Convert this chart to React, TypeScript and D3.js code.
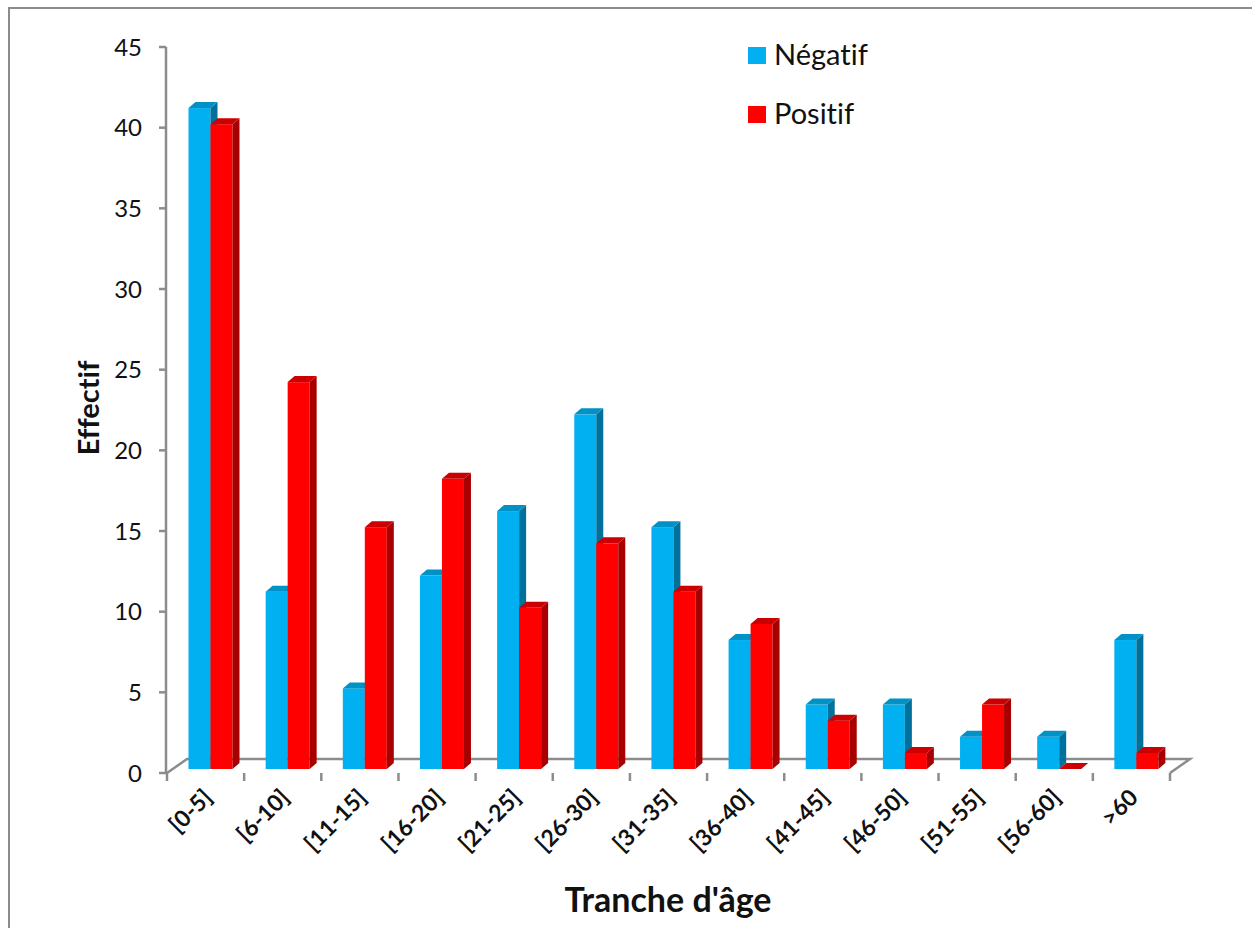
import * as d3 from "d3";
import { useEffect, useRef } from "react";

const categories = ["[0-5]", "[6-10]", "[11-15]", "[16-20]", "[21-25]", "[26-30]", "[31-35]", "[36-40]", "[41-45]", "[46-50]", "[51-55]", "[56-60]", ">60"];
const negatif = [41, 11, 5, 12, 16, 22, 15, 8, 4, 4, 2, 2, 8];
const positif = [40, 24, 15, 18, 10, 14, 11, 9, 3, 1, 4, 0, 1];
const seriesNames = ["Négatif", "Positif"];
const yTicks = [0, 5, 10, 15, 20, 25, 30, 35, 40, 45];

const FONT = "Lato, 'Open Sans', sans-serif";
const W = 1252;
const H = 928;

// front / side / top colours for the pseudo 3D bars
const colors = {
  "Négatif": { front: "#00B0F0", side: "#00719c", top: "#0091c6" },
  "Positif": { front: "#FF0000", side: "#a80000", top: "#cc0000" },
};

const App = () => {
  const svgRef = useRef(null);

  useEffect(() => {
    const svg = d3.select(svgRef.current);
    svg.selectAll("*").remove();

    const x = d3.scaleBand().domain(categories).range([167, 1170]);
    const xs = d3.scaleBand().domain(seriesNames).range([0, 44]);
    // axis scale (wall) and bar scale (front faces sit a bit higher)
    const yAxis = d3.scaleLinear().domain([0, 45]).range([773, 47]);
    const yBar = d3.scaleLinear().domain([0, 45]).range([769, 769 - 45 * 16.12]);
    const depthX = 7;
    const depthY = 6;
    const floorDX = 20;
    const floorDY = 14;

    // outer frame
    svg.append("rect")
      .attr("x", 9).attr("y", 8)
      .attr("width", W + 20).attr("height", H + 20)
      .attr("fill", "white")
      .attr("stroke", "#8c8c8c").attr("stroke-width", 2);

    const axisColor = "#8c8c8c";
    const x0 = x.range()[0];
    const x1 = x.range()[1];
    const y0 = yAxis(0);

    // floor
    svg.append("path")
      .attr("d", `M${x0},${y0} L${x0 + floorDX},${y0 - floorDY} L${x1 + floorDX},${y0 - floorDY} L${x1},${y0}`)
      .attr("fill", "white")
      .attr("stroke", axisColor).attr("stroke-width", 2.5);

    // y axis
    svg.append("line")
      .attr("x1", x0 - 1).attr("x2", x0 - 1)
      .attr("y1", yAxis(45)).attr("y2", y0)
      .attr("stroke", axisColor).attr("stroke-width", 2.5);
    svg.selectAll(".ytick").data(yTicks).enter().append("line")
      .attr("x1", x0 - 8).attr("x2", x0 - 1)
      .attr("y1", d => yAxis(d)).attr("y2", d => yAxis(d))
      .attr("stroke", axisColor).attr("stroke-width", 2.5);
    svg.selectAll(".ylab").data(yTicks).enter().append("text")
      .attr("x", 142).attr("y", d => yAxis(d))
      .attr("dy", "0.36em")
      .attr("text-anchor", "end")
      .attr("font-family", FONT).attr("font-size", 24)
      .attr("fill", "#111")
      .text(d => d);

    // bars
    const data = categories.map((c, i) => ({ c, values: [negatif[i], positif[i]] }));
    data.forEach(d => {
      seriesNames.forEach((s, k) => {
        const v = d.values[k];
        const col = colors[s];
        const bx = x(d.c) + 21.5 + xs(s);
        const bw = xs.bandwidth();
        const top = yBar(v);
        const bot = yBar(0);
        const g = svg.append("g");
        g.append("rect")
          .attr("x", bx).attr("y", top)
          .attr("width", bw).attr("height", bot - top)
          .attr("fill", col.front);
        g.append("path")
          .attr("d", `M${bx + bw},${top} L${bx + bw + depthX},${top - depthY} L${bx + bw + depthX},${bot - depthY} L${bx + bw},${bot} Z`)
          .attr("fill", col.side);
        g.append("path")
          .attr("d", `M${bx},${top} L${bx + depthX},${top - depthY} L${bx + bw + depthX},${top - depthY} L${bx + bw},${top} Z`)
          .attr("fill", col.top);
      });
    });

    // category ticks
    const tickPos = categories.map(c => x(c)).concat([x1]);
    svg.selectAll(".xtick").data(tickPos).enter().append("line")
      .attr("x1", d => d).attr("x2", d => d)
      .attr("y1", y0).attr("y2", y0 + 8)
      .attr("stroke", axisColor).attr("stroke-width", 2.5);

    // category labels
    svg.selectAll(".xlab").data(categories).enter().append("text")
      .attr("transform", d => `translate(${x(d) + x.bandwidth() / 2 + 8},${799}) rotate(-45)`)
      .attr("text-anchor", "end")
      .attr("font-family", FONT).attr("font-size", 23).attr("font-weight", "bold")
      .attr("fill", "#111")
      .text(d => d);

    // axis titles
    svg.append("text")
      .attr("transform", "translate(99,408) rotate(-90)")
      .attr("text-anchor", "middle")
      .attr("font-family", FONT).attr("font-size", 29).attr("font-weight", "bold")
      .attr("fill", "#111")
      .style("font-variant-ligatures", "none")
      .text("Effectif");
    svg.append("text")
      .attr("x", 668).attr("y", 912)
      .attr("text-anchor", "middle")
      .attr("font-family", FONT).attr("font-size", 34).attr("font-weight", "bold")
      .attr("fill", "#111")
      .text("Tranche d'âge");

    // legend
    const leg = svg.selectAll(".leg").data(seriesNames).enter().append("g")
      .attr("transform", (d, i) => `translate(748,${47 + i * 59})`);
    leg.append("rect")
      .attr("width", 18).attr("height", 17)
      .attr("fill", d => colors[d].front);
    leg.append("text")
      .attr("x", 26).attr("y", 18)
      .attr("font-family", FONT).attr("font-size", 29)
      .attr("fill", "#111")
      .style("font-variant-ligatures", "none")
      .text(d => d);
  }, []);

  return (
    <svg ref={svgRef} width={W} height={H}
      style={{ position: "absolute", left: 0, top: 0, background: "white" }} />
  );
};

export default App;
